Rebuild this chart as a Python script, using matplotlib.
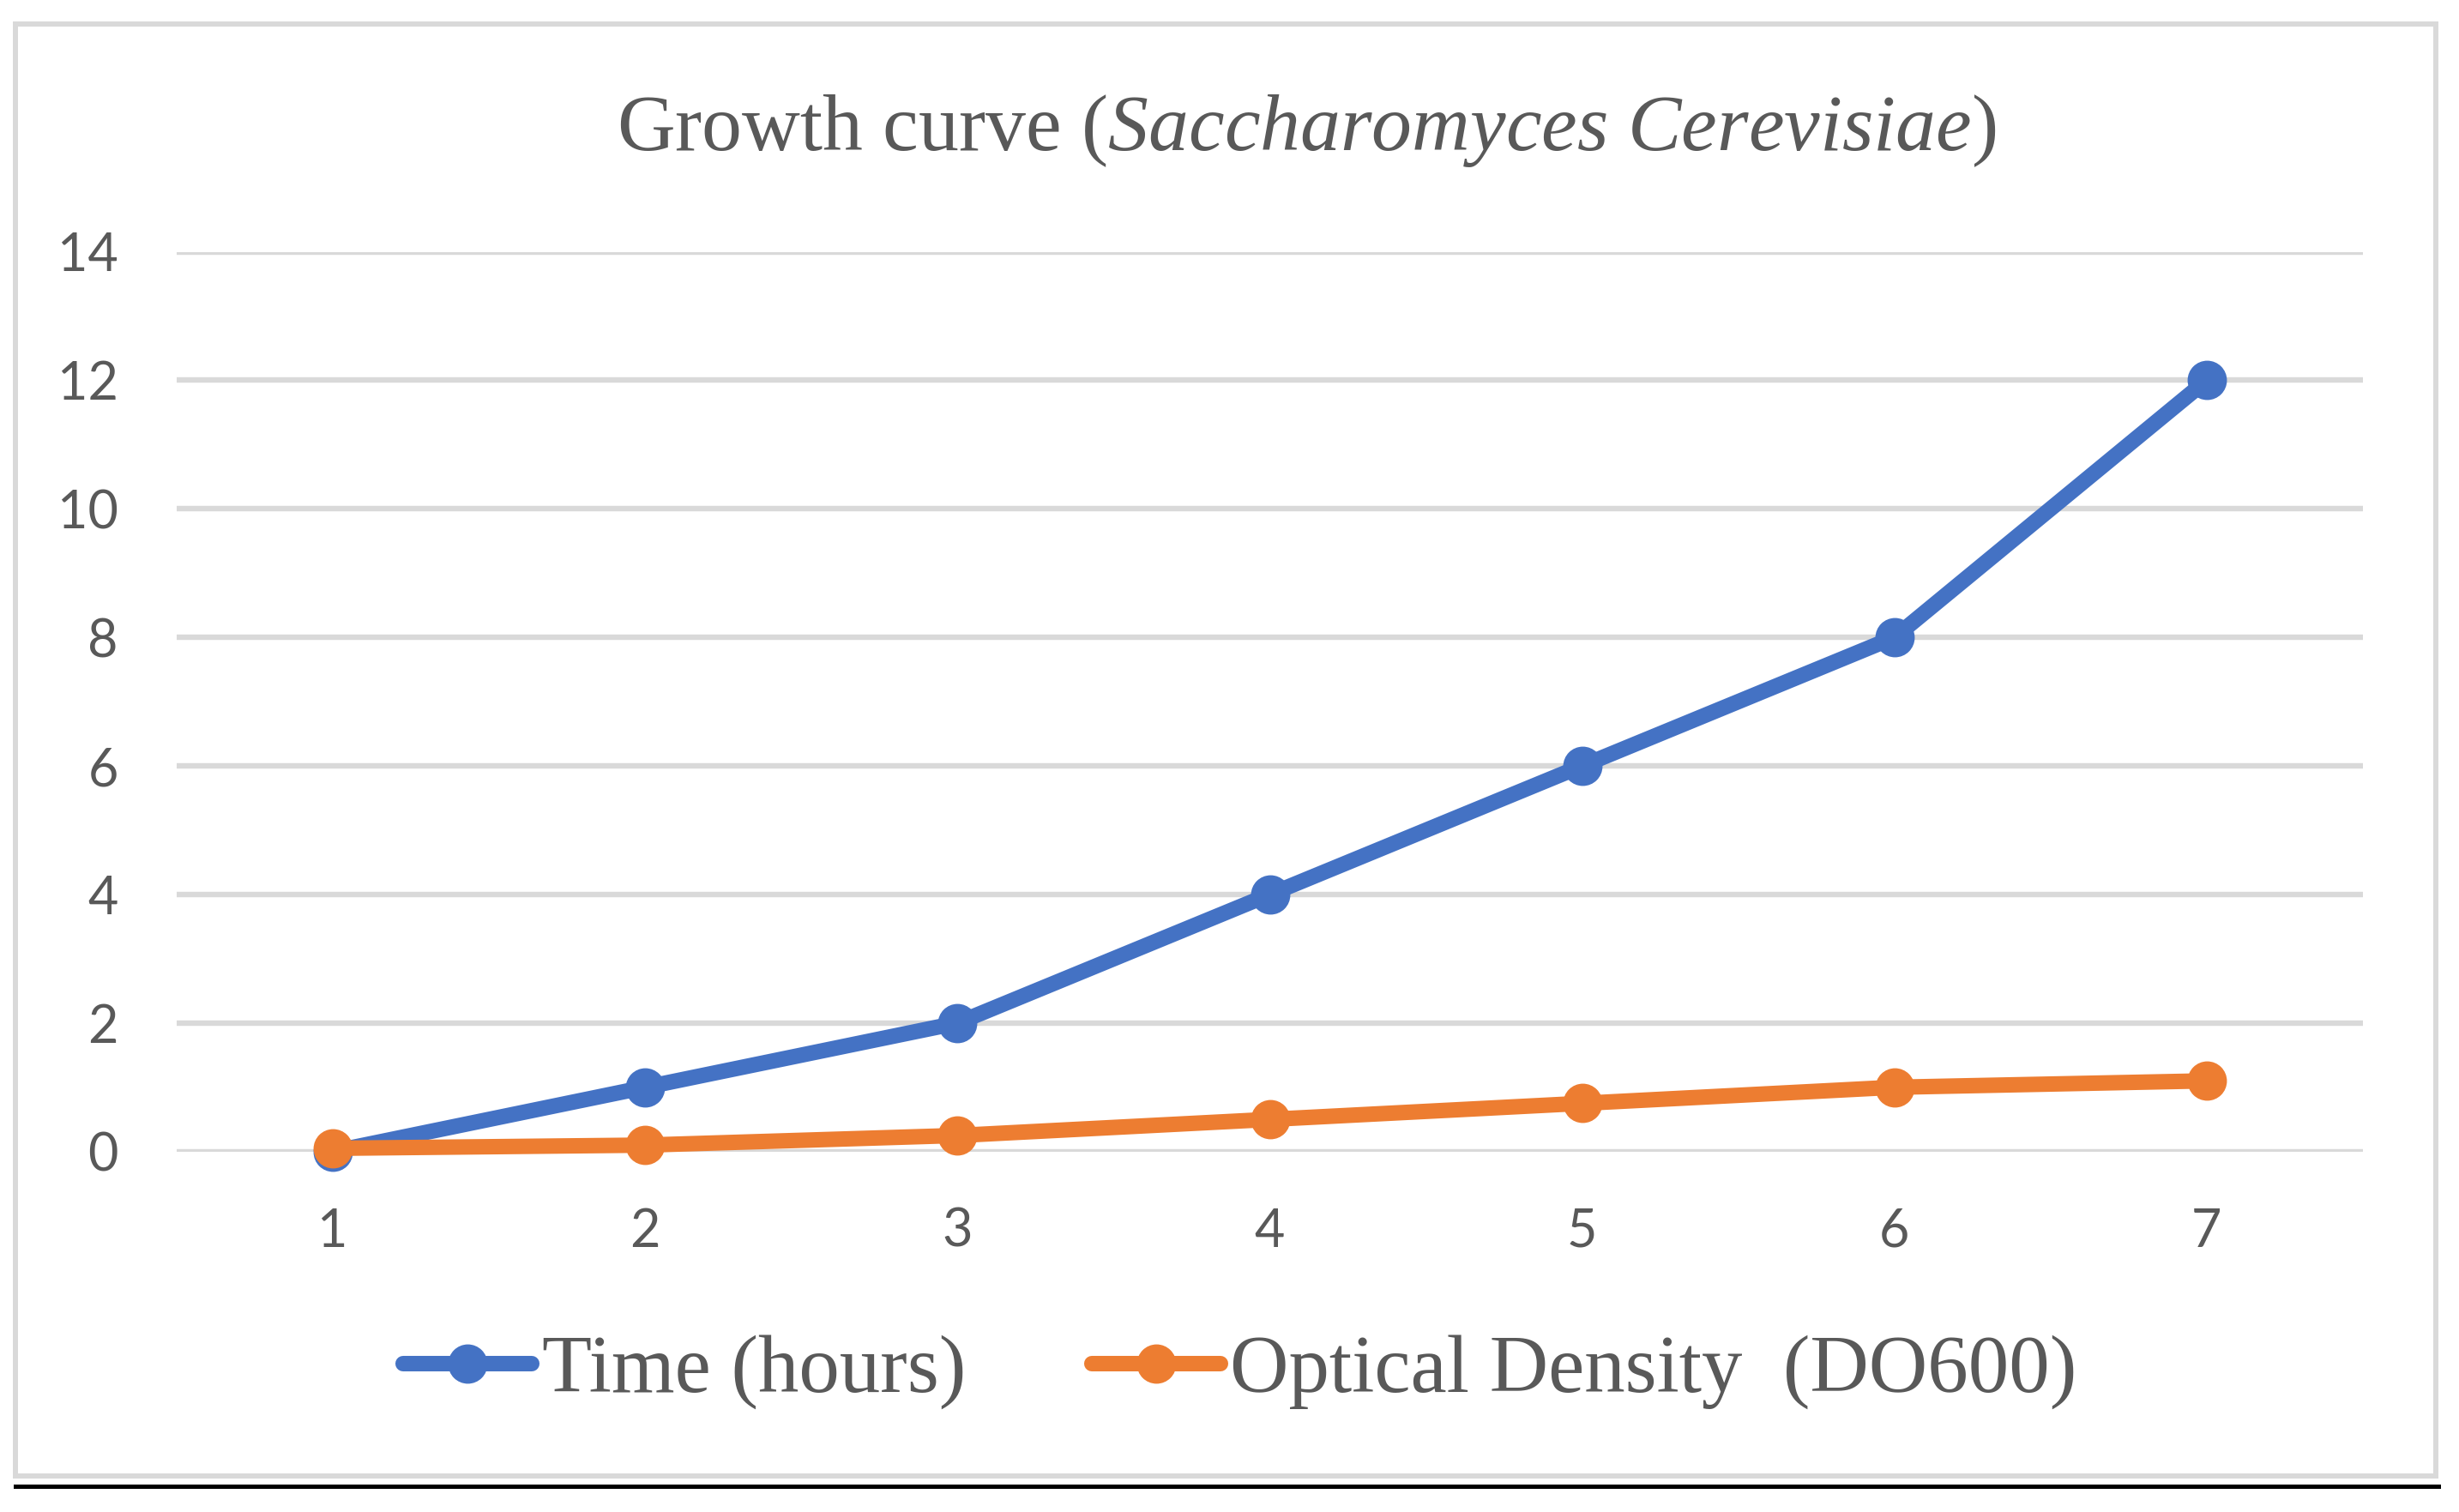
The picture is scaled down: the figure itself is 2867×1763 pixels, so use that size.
import matplotlib
matplotlib.use("Agg")
import matplotlib.pyplot as plt
from matplotlib.lines import Line2D
from matplotlib.patches import Rectangle

# data
categories = ["1", "2", "3", "4", "5", "6", "7"]
time_hours = [0, 1, 2, 4, 6, 8, 12]
optical_density = [0.05, 0.1, 0.25, 0.5, 0.75, 1.0, 1.1]
series_names = ["Time (hours)", "Optical Density  (DO600)"]
y_ticks = [0, 2, 4, 6, 8, 10, 12, 14]

blue = "#4472C4"
orange = "#ED7D31"
grey_text = "#595959"
grid_col = "#D9D9D9"

plt.rcParams["mathtext.fontset"] = "custom"
plt.rcParams["mathtext.rm"] = "Liberation Serif"
plt.rcParams["mathtext.it"] = "Liberation Serif:italic"

W, H = 2867, 1763
fig = plt.figure(figsize=(W / 100, H / 100), dpi=100)
fig.patch.set_facecolor("white")

# chart area border + black rule underneath
fig.add_artist(Rectangle((18 / W, 1 - 1721 / H), (2840 - 18) / W, (1721 - 28) / H,
                         transform=fig.transFigure, fill=False,
                         edgecolor=grid_col, linewidth=4.3))
fig.add_artist(Line2D([18 / W, 2843 / W], [1 - 1732.5 / H, 1 - 1732.5 / H],
                      transform=fig.transFigure, color="black", linewidth=3.6))

ax = fig.add_axes([206 / W, 1 - 1342.7 / H, (2755 - 206) / W, (1342.7 - 293.5) / H])
x = list(range(len(categories)))
ax.plot(x, time_hours, color=blue, linewidth=13, marker="o", markersize=32,
        solid_capstyle="round", clip_on=False, zorder=3, label=series_names[0])
ax.plot(x, optical_density, color=orange, linewidth=13, marker="o", markersize=32,
        solid_capstyle="round", clip_on=False, zorder=4, label=series_names[1])

ax.set_xlim(-0.5, len(categories) - 0.5)
ax.set_ylim(0, 14)
ax.set_yticks(y_ticks)
ax.set_xticks(x)
ax.set_xticklabels(categories)
for s in ax.spines.values():
    s.set_visible(False)
ax.yaxis.grid(True, color=grid_col, linewidth=4.6)
ax.set_axisbelow(True)
ax.tick_params(axis="both", length=0, labelsize=44, labelcolor=grey_text)
ax.tick_params(axis="y", pad=49)
ax.tick_params(axis="x", pad=47)
for lab in ax.get_xticklabels() + ax.get_yticklabels():
    lab.set_fontfamily("Lato")

fig.text(1523 / W, 1 - 175 / H,
         r"Growth curve ($\mathit{Saccharomyces\ Cerevisiae}$)",
         ha="center", va="baseline", fontsize=67.5, color=grey_text,
         family="Liberation Serif")

leg = fig.legend(loc="center", bbox_to_anchor=(1446 / W, 1 - 1600 / H), ncol=2,
                 frameon=False, handlelength=1.58, handletextpad=0.12,
                 columnspacing=1.55, prop={"family": "Liberation Serif", "size": 68.3})
for t in leg.get_texts():
    t.set_color(grey_text)

fig.savefig("out.png", dpi=100, facecolor="white")
